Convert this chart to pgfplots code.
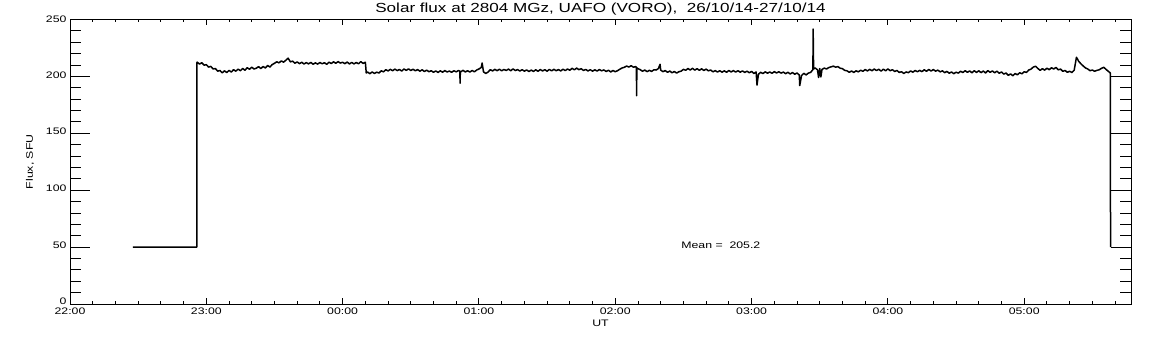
\documentclass[border=0pt]{standalone}
\usepackage{fontspec}
\setmainfont[FakeStretch=1.3]{Liberation Sans}
\usepackage{pgfplots}
\pgfplotsset{compat=1.18}
\newcommand{\tfont}{\fontsize{9.5}{10}\selectfont}
\newcommand{\ylab}[2]{\raisebox{#1}{\smash{#2}}}
\begin{document}
\begin{tikzpicture}
\useasboundingbox (-70bp,-41bp) rectangle (1082bp,304bp);
\begin{axis}[name=main, scale only axis, width=1061bp, height=284.5bp,
  xmin=0, xmax=467, ymin=0, ymax=250,
  xtick={0,60,120,180,240,300,360,420},
  xticklabels={22:00,23:00,00:00,01:00,02:00,03:00,04:00,05:00},
  minor xtick={10,20,...,460}, ytick=\empty,
  tick align=inside, tick pos=both,
  major tick length=5.5bp, minor tick length=3bp,
  axis line style={line width=0.9bp}, tick style={black, line width=0.9bp},
  xticklabel style={font=\tfont}]
\addplot[black, line width=1.5bp, line join=round, no marks] coordinates {
(27.7,50) (55.8,50) (55.9,212.5)
(56,212.5) (57,210.8) (58,212.0) (59,209.9) (60,210.3) (61,208.2) (62,208.8) (63,206.5) (64,206.9) (65,204.6)
(66,205.2) (67,203.1) (68,204.9) (69,203.4) (70,205.3) (71,203.8) (72,205.9) (73,204.6) (74,206.4) (75,205.0)
(76,207.0) (77,205.4) (78,207.6) (79,206.3) (80,208.1) (81,206.5) (82,207.2) (83,208.6) (84,206.9) (85,208.7)
(86,207.4) (87,209.6) (88,208.2) (89,210.4) (90,211.5) (91,212.8) (92,211.9) (93,213.6) (94,212.5) (95,214.2)
(96,216.0) (97,212.8) (98,213.4) (99,211.6) (100,212.7) (101,211.2) (102,212.4) (103,210.9) (104,212.1) (105,211.0)
(106,212.3) (107,210.7) (108,211.9) (109,210.8) (110,212.2) (111,211.1) (112,212.0) (113,210.6) (114,212.5) (115,211.3)
(116,212.8) (117,211.5) (118,213.0) (119,211.7) (120,212.4) (121,211.2) (122,212.6) (123,210.9) (124,212.3) (125,211.0)
(126,212.2) (127,211.1) (128,213.0) (129,211.4) (130,212.5) (130.4,203.0)
(131,203.8) (132,202.4) (133,203.9) (134,202.6) (135,203.7) (136,203.0) (137,204.9) (138,204.0) (139,205.9) (140,204.8)
(141,206.2) (142,205.0) (143,206.4) (144,205.1) (145,206.1) (146,204.7) (147,206.5) (148,205.3) (149,206.6) (150,205.2)
(151,206.3) (152,204.9) (153,206.0) (154,204.6) (155,205.8) (156,204.3) (157,205.5) (158,204.1) (159,205.0) (160,203.6)
(161,204.8) (162,203.5) (163,204.9) (164,203.7) (165,205.1) (166,203.9) (167,204.7) (168,203.6) (169,205.0) (170,204.0)
(171,205.2) (171.6,204.5) (171.7,194.0) (171.8,204.3) (172,204.1) (173,205.3) (174,203.9) (175,205.0) (176,203.8) (177,205.2)
(178,204.0) (179,205.6) (180,206.5) (181,207.8) (181.4,211.8) (182,204.0) (183,202.6) (184,203.8) (185,205.9) (186,204.8)
(187,206.2) (188,205.0) (189,206.3) (190,204.9) (191,206.1) (192,205.2) (193,206.4) (194,205.0) (195,206.6) (196,205.1)
(197,206.0) (198,204.7) (199,205.9) (200,204.6) (201,205.7) (202,204.3) (203,205.5) (204,204.4) (205,205.8) (206,204.5)
(207,206.0) (208,204.8) (209,205.9) (210,204.6) (211,206.1) (212,204.9) (213,206.2) (214,205.0) (215,206.0) (216,204.8)
(217,206.3) (218,205.1) (219,206.5) (220,205.4) (221,207.1) (222,205.8) (223,207.3) (224,205.9) (225,206.8) (226,205.2)
(227,206.1) (228,204.8) (229,205.9) (230,204.6) (231,205.8) (232,204.7) (233,206.0) (234,204.9) (235,205.7) (236,204.3)
(237,205.4) (238,203.9) (239,205.2) (240,204.1) (241,205.0) (242,206.3) (243,207.4) (244,208.0) (245,209.1) (246,208.2)
(247,209.4) (248,208.1) (249,208.6) (249.3,208.0) (249.4,183.0) (249.5,207.5) (250,206.8) (251,205.9) (252,204.5) (253,205.6)
(254,204.2) (255,205.3) (256,204.4) (257,205.8) (258,205.6) (259,206.9) (259.7,210.6) (260,205.5) (261,204.2) (262,205.1)
(263,203.6) (264,204.7) (265,203.2) (266,204.3) (267,202.9) (268,204.1) (269,204.6) (270,206.2) (271,205.4) (272,206.9)
(273,205.6) (274,207.1) (275,205.5) (276,206.8) (277,205.3) (278,206.7) (279,205.2) (280,206.4) (281,204.9) (282,205.6)
(283,204.0) (284,205.1) (285,203.8) (286,205.0) (287,203.7) (288,204.9) (289,203.6) (290,205.2) (291,203.9) (292,205.1)
(293,203.8) (294,205.0) (295,203.7) (296,204.8) (297,203.5) (298,204.6) (299,203.2) (300,204.4) (301,202.6) (302,203.9)
(302.4,192.4) (303,201.8) (304,203.6) (305,202.5) (306,204.0) (307,202.8) (308,203.9) (309,202.7) (310,204.2) (311,203.0)
(312,204.1) (313,202.9) (314,203.8) (315,202.4) (316,203.6) (317,202.1) (318,203.4) (319,201.9) (320,203.0) (321,201.2)
(321.2,192.0) (322,200.8) (323,202.7) (324,201.3) (325,202.9) (326,203.5) (327,206.0) (327.1,241.6) (327.3,206.5) (328,207.4)
(329,205.8) (329.5,199.0) (330,206.9) (330.5,199.5) (331,206.1) (332,207.3) (333,206.5) (334,207.8) (335,208.4) (336,209.0)
(337,208.1) (338,208.6) (339,207.2) (340,206.8) (341,205.3) (342,204.9) (343,203.6) (344,204.7) (345,203.5) (346,204.9)
(347,204.0) (348,205.4) (349,204.5) (350,206.0) (351,204.8) (352,206.2) (353,205.0) (354,206.5) (355,205.1) (356,206.3)
(357,204.6) (358,206.4) (359,204.9) (360,206.6) (361,205.0) (362,205.9) (363,204.3) (364,205.2) (365,203.5) (366,204.1)
(367,202.6) (368,203.9) (369,203.3) (370,204.8) (371,203.7) (372,205.2) (373,204.1) (374,205.3) (375,204.2) (376,205.8)
(377,204.5) (378,206.1) (379,204.7) (380,206.0) (381,204.6) (382,205.5) (383,204.0) (384,204.9) (385,203.3) (386,204.4)
(387,202.8) (388,203.9) (389,202.4) (390,203.7) (391,202.9) (392,204.5) (393,203.4) (394,205.0) (395,203.6) (396,204.8)
(397,203.2) (398,205.0) (399,203.5) (400,204.9) (401,203.3) (402,204.7) (403,203.0) (404,205.1) (405,203.6) (406,204.8)
(407,203.2) (408,204.6) (409,202.8) (410,203.9) (411,202.0) (412,203.0) (413,200.9) (414,202.2) (415,200.6) (416,202.5)
(417,201.4) (418,203.2) (419,202.3) (420,204.1) (421,203.5) (422,205.6) (423,206.4) (424,208.2) (425,208.9) (426,207.0)
(427,205.3) (428,206.8) (429,205.5) (430,207.2) (431,205.9) (432,207.6) (433,206.5) (434,207.9) (435,205.8) (436,206.4)
(437,204.5) (438,205.2) (439,203.6) (440,204.5) (441,203.4) (442,205.5) (443,216.8) (444,213.2) (445,211.0) (446,209.1)
(447,207.4) (448,206.5) (449,205.0) (450,205.6) (451,204.5) (452,205.3) (453,205.8) (454,207.1) (455,208.0) (456,206.2)
(457,204.5) (457.9,203.0) (458,50)
};
\node[anchor=west, font=\tfont, inner sep=0pt] at (axis cs:269,52) {Mean =\ \ 205.2};
\end{axis}
\begin{axis}[scale only axis, width=1061bp, height=284.5bp,
  xmin=0, xmax=467, ymin=0, ymax=250,
  xtick=\empty, ytick={0,50,100,150,200,250},
  yticklabels={\ylab{-0.6bp}{0},\ylab{-3.4bp}{50},\ylab{-3.4bp}{100},\ylab{-3.4bp}{150},\ylab{-3.4bp}{200},\ylab{-7bp}{250}},
  minor ytick={10,20,...,240},
  tick align=inside, tick pos=both,
  major tick length=20bp, minor tick length=11bp,
  axis line style={line width=0.9bp}, tick style={black, line width=0.9bp},
  yticklabel style={font=\tfont}]
\end{axis}
\node[font=\fontsize{13.2}{14}\selectfont, yshift=10bp] at (main.north) {Solar flux at 2804 MGz, UAFO (VORO),\ \ 26/10/14-27/10/14};
\node[font=\tfont, yshift=-19bp] at (main.south) {UT};
\node[font=\tfont, rotate=90] at ([xshift=-40bp]main.west) {Flux, SFU};
\end{tikzpicture}
\end{document}
